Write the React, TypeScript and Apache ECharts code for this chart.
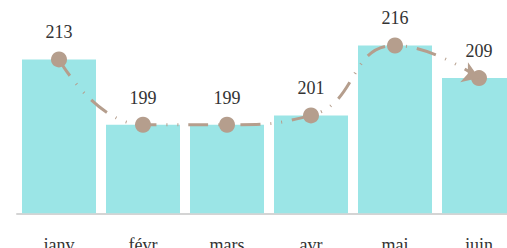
import React, { useEffect, useRef } from "react";
import * as echarts from "echarts";

const categories = ["janv", "févr", "mars", "avr", "mai", "juin"];
const barValues = [213, 199, 199, 201, 216, 209];
const lineValues = [213, 199, 199, 201, 216, 209];

export default function App() {
  const ref = useRef<HTMLDivElement>(null);
  useEffect(() => {
    document.body.style.margin = "0";
    if (!ref.current) return;
    const chart = echarts.init(ref.current, null, { renderer: "svg" });
    const font = "Liberation Serif";
    const last = lineValues.length - 1;
    chart.setOption({
      animation: false,
      grid: { left: 17, right: 0, top: 3.5, bottom: 34.7, outerBoundsMode: "none", containLabel: false },
      xAxis: {
        type: "category",
        data: categories,
        axisTick: { show: false },
        axisLine: { lineStyle: { color: "#d4d4d4", width: 2 } },
        axisLabel: { fontFamily: font, fontSize: 18, color: "#333", margin: 23 },
      },
      yAxis: {
        type: "value",
        min: 180,
        max: 225,
        show: false,
        splitLine: { show: false },
      },
      series: [
        {
          type: "bar",
          data: barValues,
          barWidth: 74,
          itemStyle: { color: "#9be5e6" },
        },
        {
          type: "line",
          data: lineValues,
          smooth: true,
          symbol: "circle",
          symbolSize: 16,
          z: 3,
          itemStyle: { color: "#b59e8d" },
          lineStyle: { color: "#b59e8d", width: 3, type: [20, 10, 1, 10, 1, 10] },
          label: {
            show: true,
            position: "top",
            distance: 10,
            fontFamily: font,
            fontSize: 18,
            color: "#333",
          },
          markLine: {
            silent: true,
            symbol: ["none", "arrow"],
            symbolSize: 16,
            label: { show: false },
            lineStyle: { width: 0, color: "#b59e8d", type: "solid" },
            data: [
              [
                { coord: [last - 1, lineValues[last - 1]] },
                { coord: [last, lineValues[last]] },
              ],
            ],
          },
        },
      ],
    });
    return () => chart.dispose();
  }, []);
  return (
    <div style={{ width: 507, height: 248, overflow: "hidden" }}>
      <div ref={ref} style={{ width: 521, height: 248 }} />
    </div>
  );
}
